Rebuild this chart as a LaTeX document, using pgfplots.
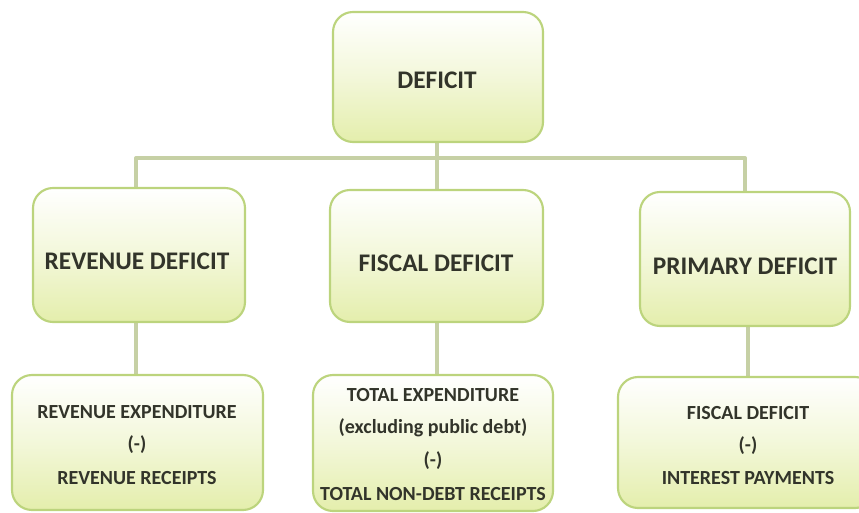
\documentclass[border=0pt]{standalone}
\usepackage{pgfplots}
\pgfplotsset{compat=1.18}
\usepackage{fontspec}
\setmainfont{Carlito}
\definecolor{boxline}{RGB}{188,212,125}
\definecolor{boxbot}{RGB}{228,238,172}
\definecolor{conn}{RGB}{198,208,165}
\definecolor{txt}{RGB}{50,52,42}
\begin{document}
\begin{tikzpicture}
\begin{axis}[
  width=644.25pt, height=384.75pt, scale only axis,
  xmin=0, xmax=859, ymin=0, ymax=513, y dir=reverse,
  hide axis, clip=false,
]
\addplot[draw=none, forget plot] coordinates {(0,0) (859,513)};
% connectors
\draw[conn, line width=3pt] (437,142) -- (437,158);
\draw[conn, line width=3pt, line cap=round] (136,158) -- (745,158);
\draw[conn, line width=3pt] (136,158) -- (136,188);
\draw[conn, line width=3pt] (437,158) -- (437,190);
\draw[conn, line width=3pt] (745,158) -- (745,192);
\draw[conn, line width=3pt] (136,322) -- (136,375);
\draw[conn, line width=3pt] (437,322) -- (437,375);
\draw[conn, line width=3pt] (748,326) -- (748,377);
% boxes
\tikzset{bx/.style={draw=boxline, line width=1.6pt, rounded corners=15pt, top color=white, bottom color=boxbot, middle color=white!55!boxbot}}
\draw[bx] (333,12) rectangle (543,142);
\draw[bx] (33,188) rectangle (245,322);
\draw[bx] (330,190) rectangle (543,322);
\draw[bx] (640,192) rectangle (850,326);
\draw[bx] (12,375) rectangle (263,510);
\draw[bx] (313,375) rectangle (553,511);
\draw[bx] (618,377) rectangle (875,508);
% texts
\tikzset{tx/.style={text=txt, font=\bfseries\fontsize{19}{22}\selectfont, anchor=center}}
\tikzset{ts/.style={text=txt, font=\bfseries\fontsize{15}{18}\selectfont, anchor=center}}
\node[tx] at (437,80) {DEFICIT};
\node[tx] at (137,261) {REVENUE DEFICIT};
\node[tx] at (436,263) {FISCAL DEFICIT};
\node[tx] at (745,266) {PRIMARY DEFICIT};
\node[ts] at (137,412) {REVENUE EXPENDITURE};
\node[ts] at (137,445) {(-)};
\node[ts] at (137,478) {REVENUE RECEIPTS};
\node[ts] at (433,395) {TOTAL EXPENDITURE};
\node[ts] at (433,428) {(excluding public debt)};
\node[ts] at (433,461) {(-)};
\node[ts] at (433,494) {TOTAL NON-DEBT RECEIPTS};
\node[ts] at (748,413) {FISCAL DEFICIT};
\node[ts] at (748,446) {(-)};
\node[ts] at (748,478) {INTEREST PAYMENTS};
\end{axis}
\pgfresetboundingbox
\useasboundingbox (current axis.south west) rectangle (current axis.north east);
\end{tikzpicture}
\end{document}
